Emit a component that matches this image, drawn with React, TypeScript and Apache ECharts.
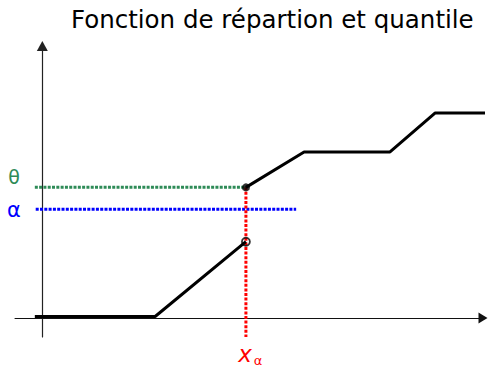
import React, { useEffect, useRef } from "react";
import * as echarts from "echarts";

// Distribution function, lower piece (before the jump)
const cdfLowX = [-0.17, 2.56, 4.62];
const cdfLowY = [0.007, 0.007, 0.372];
// Distribution function, upper piece (after the jump)
const cdfHighX = [4.62, 5.94, 7.89, 8.91, 10.08];
const cdfHighY = [0.637, 0.81, 0.81, 1.0, 1.0];

const xAlpha = 4.62;
const theta = 0.638;
const alpha = 0.53;
const thetaStartX = -0.17;
const alphaEndX = 5.76;
const alphaStartX = -0.15;

const X_MIN = -0.62;
const X_MAX = 10;
const Y_MIN = -0.093;
const Y_MAX = 1.327;

const titleText = "Fonction de répartion et quantile";

export default function App() {
  const ref = useRef<HTMLDivElement>(null);
  useEffect(() => {
    if (!ref.current) return;
    const chart = echarts.init(ref.current, null, { renderer: "svg" });
    const pairs = (xs: number[], ys: number[]) => xs.map((x, i) => [x, ys[i]]);
    const green = "#2e8b57";
    chart.setOption({
      animation: false,
      backgroundColor: "#ffffff",
      title: {
        text: titleText,
        left: 66,
        top: 2,
        textStyle: {
          fontFamily: "DejaVu Sans",
          fontWeight: "normal",
          fontSize: 24.5,
          color: "#000",
        },
      },
      grid: { left: 15, right: 5, top: 46, bottom: 29 },
      xAxis: {
        type: "value",
        min: X_MIN,
        max: X_MAX,
        axisLine: {
          onZero: true,
          symbol: ["none", "triangle"],
          symbolSize: [11, 9],
          lineStyle: { color: "#111", width: 1 },
        },
        axisTick: { show: false },
        axisLabel: { show: false },
        splitLine: { show: false },
      },
      yAxis: {
        type: "value",
        min: Y_MIN,
        max: Y_MAX,
        axisLine: {
          show: true,
          onZero: true,
          symbol: ["none", "triangle"],
          symbolSize: [11, 10],
          lineStyle: { color: "#222", width: 1.2 },
        },
        axisTick: { show: false },
        axisLabel: { show: false },
        splitLine: { show: false },
      },
      series: [
        {
          type: "line",
          data: pairs([thetaStartX, xAlpha], [theta, theta]),
          symbol: "none",
          lineStyle: { color: green, width: 3, type: [3, 1.3] },
          z: 2,
        },
        {
          type: "line",
          data: pairs([alphaStartX, alphaEndX], [alpha, alpha]),
          symbol: "none",
          lineStyle: { color: "#0000ff", width: 3, type: [3, 1.3] },
          z: 2,
        },
        {
          type: "line",
          data: pairs([xAlpha, xAlpha], [theta, Y_MIN]),
          symbol: "none",
          lineStyle: { color: "#ff0000", width: 3, type: [3, 1.6] },
          z: 2,
        },
        {
          type: "line",
          data: pairs(cdfLowX, cdfLowY),
          symbol: "none",
          clip: false,
          lineStyle: { color: "#000", width: 3 },
          z: 3,
        },
        {
          type: "line",
          data: pairs(cdfHighX, cdfHighY),
          symbol: "none",
          clip: false,
          lineStyle: { color: "#000", width: 3 },
          z: 3,
        },
        {
          type: "scatter",
          data: [[cdfLowX[cdfLowX.length - 1], cdfLowY[cdfLowY.length - 1]]],
          symbol: "circle",
          symbolSize: 8,
          itemStyle: { color: "rgba(255,255,255,0)", borderColor: "#000", borderWidth: 1.8 },
          z: 4,
        },
        {
          type: "scatter",
          data: [[cdfHighX[0], cdfHighY[0]]],
          symbol: "circle",
          symbolSize: 8,
          itemStyle: { color: "#000" },
          z: 4,
        },
      ],
      graphic: [
        {
          type: "text",
          x: 14,
          y: 177,
          style: {
            text: "θ",
            fill: green,
            fontSize: 19,
            fontFamily: "DejaVu Sans",
            align: "center",
            verticalAlign: "middle",
          },
        },
        {
          type: "text",
          x: 14,
          y: 210,
          style: {
            text: "α",
            fill: "#0000ff",
            fontSize: 21,
            fontFamily: "DejaVu Sans",
            align: "center",
            verticalAlign: "middle",
          },
        },
        {
          type: "text",
          x: 245,
          y: 354,
          style: {
            text: "x",
            fill: "#ff0000",
            fontSize: 23,
            fontStyle: "italic",
            fontFamily: "DejaVu Sans",
            align: "center",
            verticalAlign: "middle",
          },
        },
        {
          type: "text",
          x: 258,
          y: 360,
          style: {
            text: "α",
            fill: "#ff0000",
            fontSize: 13,
            fontFamily: "DejaVu Sans",
            align: "center",
            verticalAlign: "middle",
          },
        },
      ],
    });
    return () => chart.dispose();
  }, []);
  return <div ref={ref} style={{ width: 488, height: 366, position: "fixed", left: 0, top: 0 }} />;
}
